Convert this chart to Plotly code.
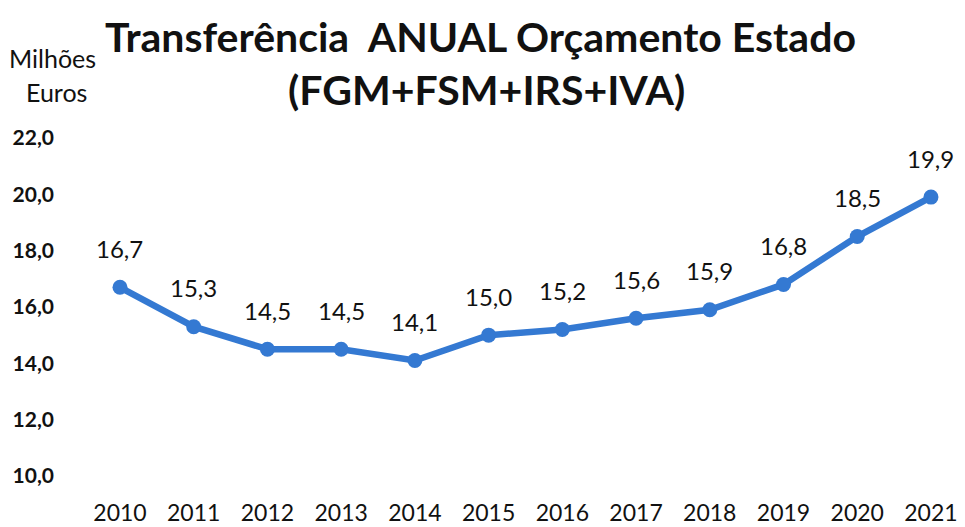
import plotly.graph_objects as go

years = [2010, 2011, 2012, 2013, 2014, 2015, 2016, 2017, 2018, 2019, 2020, 2021]
values = [16.7, 15.3, 14.5, 14.5, 14.1, 15.0, 15.2, 15.6, 15.9, 16.8, 18.5, 19.9]
labels = ["16,7", "15,3", "14,5", "14,5", "14,1", "15,0", "15,2", "15,6", "15,9", "16,8", "18,5", "19,9"]
ytick_vals = [10, 12, 14, 16, 18, 20, 22]
ytick_text = ["10,0", "12,0", "14,0", "16,0", "18,0", "20,0", "22,0"]

FONT = "Lato, 'Open Sans', sans-serif"
LINE = "#3479d2"

fig = go.Figure()
fig.add_trace(go.Scatter(
    x=years, y=values, mode="lines+markers",
    line=dict(color=LINE, width=6.5),
    marker=dict(color=LINE, size=15),
    hoverinfo="skip", showlegend=False,
))

for x, y, t in zip(years, values, labels):
    fig.add_annotation(x=x, y=y, text=t, showarrow=False, yshift=39,
                       font=dict(family=FONT, size=24, color="#111"))

fig.add_annotation(xref="paper", yref="paper", x=0.464, y=1.235, xanchor="center", yanchor="middle",
                   text="<b>Transferência  ANUAL Orçamento Estado</b>", showarrow=False,
                   font=dict(family=FONT, size=41, color="#111"))
fig.add_annotation(xref="paper", yref="paper", x=0.471, y=1.094, xanchor="center", yanchor="middle",
                   text="<b>(FGM+FSM+IRS+IVA)</b>", showarrow=False,
                   font=dict(family=FONT, size=41, color="#111"))
fig.add_annotation(xref="paper", yref="paper", x=-0.071, y=1.179, xanchor="left", yanchor="middle",
                   text="Milhões", showarrow=False,
                   font=dict(family=FONT, size=25, color="#111"))
fig.add_annotation(xref="paper", yref="paper", x=-0.052, y=1.088, xanchor="left", yanchor="middle",
                   text="Euros", showarrow=False,
                   font=dict(family=FONT, size=25, color="#111"))

fig.update_layout(
    width=965, height=527,
    margin=dict(l=70, r=10, t=125, b=27),
    paper_bgcolor="white", plot_bgcolor="white",
    xaxis=dict(range=[2009.322, 2021.326], tickvals=years, ticktext=[str(y) for y in years],
               showgrid=False, zeroline=False, showline=False, ticks="", automargin=False,
               ticklabelstandoff=-3,
               tickfont=dict(family=FONT, size=23, color="#111")),
    yaxis=dict(range=[9.148, 22.46], tickvals=ytick_vals, ticktext=ytick_text,
               showgrid=False, zeroline=False, showline=False, ticks="", automargin=False,
               ticklabelstandoff=15,
               tickfont=dict(family=FONT, size=21, color="#111", weight="bold")),
)

fig.write_html("out.html", config={"displayModeBar": False},
               post_script="document.body.style.margin='0';document.body.style.overflow='hidden';")
